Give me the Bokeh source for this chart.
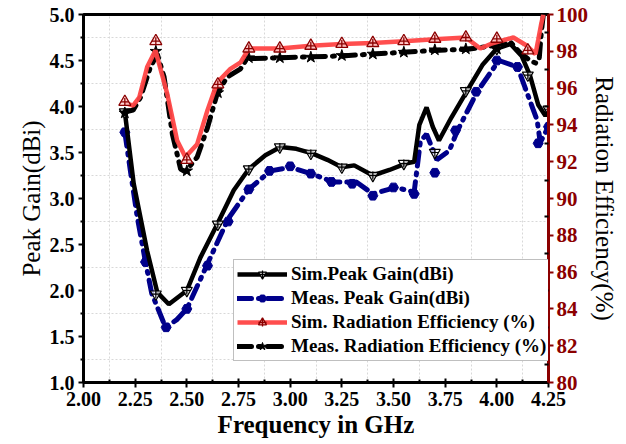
from bokeh.plotting import figure
from bokeh.models import (Range1d, LinearAxis, FixedTicker, NumeralTickFormatter,
                          Legend, LegendItem)
from bokeh.embed import file_html
from bokeh.resources import INLINE

# ---------------- data ----------------
# Simulated peak gain (dBi): traced curve and marker points
sim_gain_line_f = [2.20, 2.243, 2.308, 2.357, 2.413, 2.50, 2.566, 2.647, 2.727, 2.80, 2.88,
                   2.953, 3.03, 3.106, 3.18, 3.25, 3.31, 3.40, 3.48, 3.558, 3.60, 3.625,
                   3.66, 3.69, 3.72, 3.78, 3.856, 3.93, 4.00, 4.066, 4.12, 4.16, 4.20, 4.235, 4.25]
sim_gain_line = [3.94, 3.16, 2.43, 1.98, 1.85, 2.00, 2.36, 2.72, 3.09, 3.32, 3.47,
                 3.56, 3.54, 3.49, 3.42, 3.34, 3.36, 3.25, 3.31, 3.38, 3.40, 3.80,
                 3.99, 3.78, 3.63, 3.88, 4.17, 4.45, 4.63, 4.68, 4.55, 4.34, 4.02, 3.90, 3.95]
sim_gain_mk_f = [2.20, 2.35, 2.50, 2.65, 2.80, 2.95, 3.10, 3.25, 3.40, 3.55, 3.70, 3.85, 4.00, 4.15, 4.25]
sim_gain_mk = [3.94, 1.96, 2.00, 2.72, 3.32, 3.56, 3.49, 3.34, 3.25, 3.38, 3.50, 4.17, 4.63, 4.34, 3.97]

# Measured peak gain (dBi)
meas_gain_line_f = [2.20, 2.227, 2.26, 2.30, 2.33, 2.397, 2.45, 2.50, 2.60, 2.70, 2.80, 2.905,
                    3.00, 3.10, 3.21, 3.32, 3.40, 3.51, 3.60, 3.63, 3.66, 3.71, 3.77, 3.81,
                    3.905, 4.01, 4.10, 4.195, 4.21, 4.25]
meas_gain_line = [3.72, 3.30, 2.80, 2.31, 1.97, 1.60, 1.68, 1.80, 2.29, 2.78, 3.10, 3.30,
                  3.34, 3.27, 3.18, 3.18, 3.05, 3.12, 3.07, 3.62, 3.70, 3.42, 3.52, 3.74,
                  4.16, 4.50, 4.43, 3.85, 3.61, 3.78]
meas_gain_mk_f = [2.20, 2.30, 2.40, 2.50, 2.60, 2.70, 2.80, 2.90, 3.00, 3.10, 3.20, 3.30,
                  3.40, 3.50, 3.60, 3.70, 3.80, 3.90, 4.00, 4.10, 4.20, 4.25]
meas_gain_mk = [3.72, 2.31, 1.60, 1.80, 2.27, 2.75, 3.10, 3.30, 3.35, 3.27, 3.18, 3.16,
                3.03, 3.12, 3.05, 3.28, 3.74, 4.16, 4.50, 4.43, 3.60, 3.78]

# Simulated radiation efficiency (%)
sim_eff_line_f = [2.20, 2.24, 2.27, 2.308, 2.348, 2.405, 2.453, 2.493, 2.55, 2.60, 2.647, 2.711,
                  2.76, 2.80, 2.95, 3.10, 3.25, 3.40, 3.55, 3.70, 3.85, 3.92, 3.97, 4.08,
                  4.146, 4.187, 4.20, 4.215, 4.225]
sim_eff_line = [95.2, 95.05, 95.5, 97.15, 98.05, 95.7, 93.15, 92.25, 92.95, 94.8, 96.3, 97.05,
                97.4, 98.15, 98.15, 98.3, 98.4, 98.45, 98.55, 98.65, 98.75, 98.15, 98.4, 98.75,
                98.3, 97.85, 98.6, 99.5, 100.0]
sim_eff_mk_f = [2.20, 2.35, 2.50, 2.65, 2.80, 2.95, 3.10, 3.25, 3.40, 3.55, 3.70, 3.85, 4.00, 4.15]
sim_eff_mk = [95.25, 98.55, 92.1, 96.2, 98.15, 98.15, 98.3, 98.4, 98.45, 98.55, 98.68, 98.75, 98.68, 98.05]

# Measured radiation efficiency (%)
meas_eff_line_f = [2.20, 2.24, 2.276, 2.324, 2.357, 2.39, 2.43, 2.47, 2.493, 2.55, 2.60, 2.647,
                   2.695, 2.76, 2.79, 2.95, 3.10, 3.25, 3.40, 3.55, 3.70, 3.85, 3.98, 4.066,
                   4.11, 4.16, 4.19, 4.205, 4.215, 4.225]
meas_eff_line = [94.7, 94.8, 95.5, 97.15, 97.85, 96.6, 93.5, 91.6, 91.45, 92.25, 93.85, 95.7,
                 96.6, 97.05, 97.6, 97.65, 97.7, 97.75, 97.85, 97.95, 98.05, 98.1, 98.3, 98.5,
                 97.95, 97.5, 97.35, 97.6, 99.0, 100.0]
meas_eff_mk_f = [2.20, 2.35, 2.50, 2.65, 2.80, 2.95, 3.10, 3.25, 3.40, 3.55, 3.70, 3.85, 4.00]
meas_eff_mk = [94.65, 98.0, 91.5, 95.75, 97.65, 97.65, 97.68, 97.77, 97.85, 97.95, 98.08, 98.13, 98.13]

x_ticks = [2.00, 2.25, 2.50, 2.75, 3.00, 3.25, 3.50, 3.75, 4.00, 4.25]
gain_ticks = [1.0, 1.5, 2.0, 2.5, 3.0, 3.5, 4.0, 4.5, 5.0]
eff_ticks = [80, 82, 84, 86, 88, 90, 92, 94, 96, 98, 100]

labels = ["Sim.Peak Gain(dBi)", "Meas. Peak Gain(dBi)",
          "Sim. Radiation Efficiency (%)", "Meas. Radiation Efficiency (%)"]

# ---------------- figure ----------------
FONT = "Liberation Serif"
DARKRED = "#8B0000"

p = figure(width=626, height=444, output_backend="svg", toolbar_location=None,
           x_range=Range1d(2.0, 4.25), y_range=Range1d(1.0, 5.0),
           min_border_left=83, min_border_right=78, min_border_top=14, min_border_bottom=62)
p.extra_y_ranges = {"eff": Range1d(80, 100)}

p.outline_line_color = "black"
p.outline_line_width = 3
p.background_fill_color = "white"
p.border_fill_color = "white"

# grids at minor positions
x_minor = [2.125 + 0.25 * i for i in range(9)]
y_minor = [1.25 + 0.5 * i for i in range(8)]
p.xgrid.ticker = FixedTicker(ticks=x_minor)
p.ygrid.ticker = FixedTicker(ticks=y_minor)
for g in (p.xgrid, p.ygrid):
    g.grid_line_color = "#d8d8d8"
    g.grid_line_dash = "2 2"
    g.grid_line_width = 1

# bottom axis
xa = p.xaxis[0]
xa.ticker = FixedTicker(ticks=x_ticks, minor_ticks=x_minor)
xa.formatter = NumeralTickFormatter(format="0.00")
xa.axis_label = "Frequency in GHz"
xa.axis_label_text_font = FONT
xa.axis_label_text_font_style = "bold"
xa.axis_label_text_font_size = "25px"
xa.axis_label_text_color = "black"
xa.axis_label_standoff = 2
xa.major_label_text_font = FONT
xa.major_label_text_font_style = "bold"
xa.major_label_text_font_size = "20px"
xa.major_label_text_color = "black"
xa.major_label_standoff = 4
xa.axis_line_width = 3
xa.axis_line_color = "black"
xa.major_tick_in = 4
xa.major_tick_out = 5
xa.major_tick_line_width = 2
xa.major_tick_line_color = "black"
xa.minor_tick_in = 3
xa.minor_tick_out = 0
xa.minor_tick_line_width = 2
xa.minor_tick_line_color = "black"

# left axis
ya = p.yaxis[0]
ya.ticker = FixedTicker(ticks=gain_ticks, minor_ticks=y_minor)
ya.formatter = NumeralTickFormatter(format="0.0")
ya.axis_label = "Peak Gain(dBi)"
ya.axis_label_text_font = FONT
ya.axis_label_text_font_style = "normal"
ya.axis_label_text_font_size = "25px"
ya.axis_label_text_color = "black"
ya.axis_label_standoff = 2
ya.major_label_text_font = FONT
ya.major_label_text_font_style = "bold"
ya.major_label_text_font_size = "20px"
ya.major_label_text_color = "black"
ya.major_label_standoff = 4
ya.axis_line_width = 3
ya.axis_line_color = "black"
ya.major_tick_in = 0
ya.major_tick_out = 5
ya.major_tick_line_width = 2
ya.major_tick_line_color = "black"
ya.minor_tick_in = 0
ya.minor_tick_out = 3
ya.minor_tick_line_width = 2
ya.minor_tick_line_color = "black"

# right axis (efficiency)
ra = LinearAxis(y_range_name="eff",
                ticker=FixedTicker(ticks=eff_ticks, minor_ticks=[81, 83, 85, 87, 89, 91, 93, 95, 97, 99]))
ra.axis_label = "Radiation Efficiency(%)"
ra.axis_label_text_font = FONT
ra.axis_label_text_font_style = "normal"
ra.axis_label_text_font_size = "25px"
ra.axis_label_text_color = "black"
ra.axis_label_standoff = 0
ra.major_label_text_font = FONT
ra.major_label_text_font_style = "bold"
ra.major_label_text_font_size = "21px"
ra.major_label_text_color = DARKRED
ra.major_label_standoff = 3
ra.axis_line_color = DARKRED
ra.axis_line_width = 3
ra.major_tick_line_color = DARKRED
ra.major_tick_out = 5
ra.major_tick_in = 0
ra.major_tick_line_width = 2
ra.minor_tick_line_color = "black"
ra.minor_tick_in = 4
ra.minor_tick_out = 0
ra.minor_tick_line_width = 2
p.add_layout(ra, "right")

# ---------------- series ----------------
blue_line = p.line(meas_gain_line_f, meas_gain_line, line_color="#00008B", line_width=5,
                   line_dash="14 7 2 7", line_cap="round")
blue_mk = p.scatter(meas_gain_mk_f, meas_gain_mk, marker="hex", size=10,
                    fill_color="#00008B", line_color="#00008B")

sg_line = p.line(sim_gain_line_f, sim_gain_line, line_color="black", line_width=4.5)
sg_mk = p.scatter(sim_gain_mk_f, sim_gain_mk, marker="inverted_triangle", size=11,
                  fill_color="white", fill_alpha=0.7, line_color="black", line_width=1.2)
sg_mk2 = p.scatter(sim_gain_mk_f, sim_gain_mk, marker="cross", size=8,
                   line_color="black", line_width=1.2)

me_line = p.line(meas_eff_line_f, meas_eff_line, y_range_name="eff", line_color="black",
                 line_width=5, line_dash="14 7 2 7", line_cap="round")
me_mk = p.scatter(meas_eff_mk_f, meas_eff_mk, y_range_name="eff", marker="star", size=12,
                  fill_color="black", line_color="black")

se_line = p.line(sim_eff_line_f, sim_eff_line, y_range_name="eff", line_color="#FF4545",
                 line_width=4.5, line_alpha=0.95)
se_mk = p.scatter(sim_eff_mk_f, sim_eff_mk, y_range_name="eff", marker="triangle", size=12,
                  fill_color="#ffd0d0", fill_alpha=0.8, line_color=DARKRED, line_width=1.3)
se_mk2 = p.scatter(sim_eff_mk_f, sim_eff_mk, y_range_name="eff", marker="cross", size=8,
                   line_color=DARKRED, line_width=1.3)

legend = Legend(items=[
    LegendItem(label=labels[0], renderers=[sg_line, sg_mk, sg_mk2]),
    LegendItem(label=labels[1], renderers=[blue_line, blue_mk]),
    LegendItem(label=labels[2], renderers=[se_line, se_mk, se_mk2]),
    LegendItem(label=labels[3], renderers=[me_line, me_mk]),
], location=(150, 21))
legend.label_text_font = FONT
legend.label_text_font_style = "bold"
legend.label_text_font_size = "19px"
legend.label_text_color = "black"
legend.label_height = 20
legend.glyph_height = 20
legend.glyph_width = 50
legend.label_standoff = 4
legend.spacing = 2
legend.padding = 3
legend.margin = 0
legend.border_line_color = "#808080"
legend.border_line_width = 1
legend.background_fill_color = "white"
legend.background_fill_alpha = 1.0
p.add_layout(legend, "center")

open("out.html", "w").write(file_html(p, INLINE))
